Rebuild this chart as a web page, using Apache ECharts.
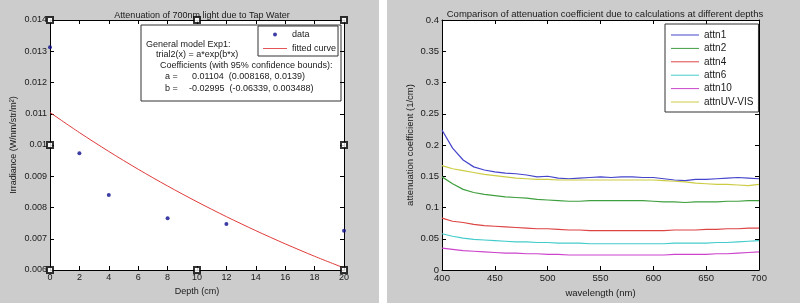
<!DOCTYPE html>
<html>
<head>
<meta charset="utf-8">
<script src="https://cdn.jsdelivr.net/npm/echarts@6/dist/echarts.min.js"></script>
<style>
  html, body { margin: 0; padding: 0; background: #fff; }
  #main { width: 800px; height: 306px; }
</style>
</head>
<body>
<div id="main"></div>
<script>
// left panel: measured irradiance vs depth + exp fit
var depth = [0, 2, 4, 8, 12, 20];
var irradiance = [0.01313, 0.00974, 0.0084, 0.00766, 0.00747, 0.00726];
var fitDepth = [0, 2, 4, 6, 8, 10, 12, 14, 16, 18, 20];
var fitValues = [0.01104, 0.010398, 0.009794, 0.009224, 0.008688, 0.008183, 0.007707, 0.007259, 0.006837, 0.006439, 0.006066];
// figure selection handles (matlab edit mode)
var handleX = [0, 10, 20, 0, 20, 0, 10, 20];
var handleY = [0.014, 0.014, 0.014, 0.010, 0.010, 0.006, 0.006, 0.006];

// right panel: attenuation coefficient vs wavelength
var wavelength = [400, 410, 420, 430, 440, 450, 460, 470, 480, 490, 500, 510, 520, 530, 540, 550,
  560, 570, 580, 590, 600, 610, 620, 630, 640, 650, 660, 670, 680, 690, 700];
var attn1 = [0.224, 0.195, 0.176, 0.165, 0.160, 0.157, 0.155, 0.154, 0.152, 0.149, 0.150, 0.147, 0.146, 0.147, 0.148, 0.149,
  0.148, 0.149, 0.149, 0.148, 0.148, 0.146, 0.144, 0.143, 0.145, 0.145, 0.146, 0.147, 0.148, 0.147, 0.146];
var attn2 = [0.149, 0.138, 0.129, 0.124, 0.121, 0.119, 0.117, 0.116, 0.115, 0.113, 0.112, 0.111, 0.110, 0.110, 0.111, 0.111,
  0.111, 0.111, 0.111, 0.111, 0.110, 0.109, 0.109, 0.108, 0.109, 0.109, 0.109, 0.110, 0.110, 0.111, 0.111];
var attn4 = [0.083, 0.078, 0.076, 0.073, 0.071, 0.070, 0.069, 0.068, 0.067, 0.066, 0.066, 0.065, 0.064, 0.064, 0.063, 0.063,
  0.063, 0.063, 0.063, 0.063, 0.063, 0.063, 0.064, 0.064, 0.064, 0.065, 0.065, 0.066, 0.066, 0.067, 0.067];
var attn6 = [0.058, 0.054, 0.051, 0.049, 0.048, 0.047, 0.046, 0.045, 0.045, 0.044, 0.044, 0.043, 0.043, 0.043, 0.042, 0.042,
  0.042, 0.042, 0.042, 0.042, 0.042, 0.042, 0.043, 0.043, 0.043, 0.043, 0.044, 0.044, 0.045, 0.046, 0.047];
var attn10 = [0.035, 0.033, 0.031, 0.030, 0.029, 0.028, 0.027, 0.027, 0.026, 0.026, 0.025, 0.025, 0.024, 0.024, 0.024, 0.024,
  0.024, 0.024, 0.024, 0.024, 0.024, 0.024, 0.025, 0.025, 0.025, 0.025, 0.026, 0.026, 0.027, 0.028, 0.029];
var attnUV = [0.167, 0.162, 0.159, 0.156, 0.153, 0.151, 0.149, 0.147, 0.146, 0.145, 0.145, 0.144, 0.144, 0.144, 0.144, 0.144,
  0.144, 0.144, 0.144, 0.144, 0.144, 0.143, 0.142, 0.141, 0.139, 0.138, 0.137, 0.137, 0.136, 0.135, 0.137];

var fnt = 'Liberation Sans, Arial, sans-serif';
var txt = '#1a1a1a';
var lineIcon = 'path://M0,0 h28 v1 h-28 Z';

function zip(xs, ys) {
  return xs.map(function (x, i) { return [x, ys[i]]; });
}
function tickFmt(v) {
  return String(Number(v.toFixed(3)));
}
function valAxis(idx, pos, min, max, step, show, fs, name, gap) {
  return {
    type: 'value', gridIndex: idx, position: pos, min: min, max: max, interval: step,
    name: name || '', nameLocation: 'middle', nameGap: gap || 0,
    nameTextStyle: { fontFamily: fnt, fontSize: fs, color: txt },
    axisLine: { show: true, onZero: false, lineStyle: { color: '#000', width: 1 } },
    axisTick: { show: true, inside: true, length: 4, lineStyle: { color: '#000' } },
    axisLabel: { show: show, margin: 3, fontFamily: fnt, fontSize: fs, color: txt, formatter: tickFmt },
    splitLine: { show: false }
  };
}

var lineCols = ['#4545cc', '#3f9f3f', '#dd4444', '#44cccc', '#cc44cc', '#cccc44'];
var attnNames = ['attn1', 'attn2', 'attn4', 'attn6', 'attn10', 'attnUV-VIS'];
var attnData = [attn1, attn2, attn4, attn6, attn10, attnUV];

var myChart = echarts.init(document.getElementById('main'));

var series = [
  {
    name: 'data', type: 'scatter', xAxisIndex: 0, yAxisIndex: 0,
    symbol: 'circle', symbolSize: 4, itemStyle: { color: '#0c0c90' },
    data: zip(depth, irradiance), z: 4
  },
  {
    name: 'fitted curve', type: 'line', xAxisIndex: 0, yAxisIndex: 0,
    symbol: 'none', smooth: 0.3, lineStyle: { color: '#e03a3a', width: 1 },
    itemStyle: { color: '#e03a3a' },
    data: zip(fitDepth, fitValues), z: 3
  },
  {
    name: 'handles', type: 'scatter', xAxisIndex: 0, yAxisIndex: 0, clip: false,
    symbol: 'rect', symbolSize: 6, silent: true,
    itemStyle: { color: '#fff', borderColor: '#000', borderWidth: 2 },
    data: zip(handleX, handleY), z: 6
  }
];
attnNames.forEach(function (n, i) {
  series.push({
    name: n, type: 'line', xAxisIndex: 2, yAxisIndex: 2,
    symbol: 'none', lineStyle: { color: lineCols[i], width: 1.2 },
    itemStyle: { color: lineCols[i] },
    data: zip(wavelength, attnData[i])
  });
});

var option = {
  animation: false,
  backgroundColor: '#fff',
  textStyle: { fontFamily: fnt },
  title: [
    { text: 'Attenuation of 700nm light due to Tap Water', left: 197, top: 6, textAlign: 'center',
      textStyle: { fontFamily: fnt, fontSize: 9, fontWeight: 'normal', color: txt } },
    { text: 'Comparison of attenuation coefficient due to calculations at different depths', left: 600, top: 4, textAlign: 'center',
      textStyle: { fontFamily: fnt, fontSize: 9.5, fontWeight: 'normal', color: txt } }
  ],
  grid: [
    { left: 50, top: 20, width: 294, height: 250, show: true, backgroundColor: '#fff', borderWidth: 0 },
    { left: 442, top: 20, width: 317, height: 250, show: true, backgroundColor: '#fff', borderWidth: 0 }
  ],
  legend: [
    {
      data: [{ name: 'data', icon: 'circle' }, { name: 'fitted curve', icon: lineIcon }],
      orient: 'vertical', left: 258, top: 26,
      itemWidth: 24, itemHeight: 4, itemGap: 5, padding: [4, 2, 3, 5],
      backgroundColor: '#fff', borderColor: '#333', borderWidth: 1, borderRadius: 0,
      textStyle: { fontFamily: fnt, fontSize: 9, color: txt }, selectedMode: false, z: 10
    },
    {
      data: attnNames.map(function (n) { return { name: n, icon: lineIcon }; }),
      orient: 'vertical', left: 665, top: 24,
      itemWidth: 28, itemHeight: 8, itemGap: 3.4, padding: [6, 5, 5, 6],
      backgroundColor: '#fff', borderColor: '#333', borderWidth: 1, borderRadius: 0,
      textStyle: { fontFamily: fnt, fontSize: 10, color: txt }, selectedMode: false
    }
  ],
  xAxis: [
    valAxis(0, 'bottom', 0, 20, 2, true, 9, 'Depth (cm)', 14),
    valAxis(0, 'top', 0, 20, 2, false, 9),
    valAxis(1, 'bottom', 400, 700, 50, true, 9.5, 'wavelength (nm)', 15),
    valAxis(1, 'top', 400, 700, 50, false, 9.5)
  ],
  yAxis: [
    valAxis(0, 'left', 0.006, 0.014, 0.001, true, 9, 'Irradiance (W/nm/str/m²)', 32),
    valAxis(0, 'right', 0.006, 0.014, 0.001, false, 9),
    valAxis(1, 'left', 0, 0.4, 0.05, true, 9.5, 'attenuation coefficient (1/cm)', 27),
    valAxis(1, 'right', 0, 0.4, 0.05, false, 9.5)
  ],
  graphic: [
    { type: 'rect', z: -10, silent: true, shape: { x: 0, y: 0, width: 379, height: 303 }, style: { fill: '#cccccc' } },
    { type: 'rect', z: -10, silent: true, shape: { x: 387, y: 0, width: 413, height: 303 }, style: { fill: '#cccccc' } },
    {
      type: 'group', z: 8, children: [
        { type: 'rect', shape: { x: 141, y: 25, width: 200, height: 76 }, style: { fill: '#fff', stroke: '#333', lineWidth: 1 } },
        { type: 'text', x: 146, y: 45, style: { text: 'General model Exp1:', font: '9px ' + fnt, fill: txt, verticalAlign: 'middle' } },
        { type: 'text', x: 156, y: 55, style: { text: 'trial2(x) = a*exp(b*x)', font: '9px ' + fnt, fill: txt, verticalAlign: 'middle' } },
        { type: 'text', x: 160, y: 66, style: { text: 'Coefficients (with 95% confidence bounds):', font: '9px ' + fnt, fill: txt, verticalAlign: 'middle' } },
        { type: 'text', x: 165, y: 77, style: { text: 'a =', font: '9px ' + fnt, fill: txt, verticalAlign: 'middle' } },
        { type: 'text', x: 192, y: 77, style: { text: '0.01104  (0.008168, 0.0139)', font: '9px ' + fnt, fill: txt, verticalAlign: 'middle' } },
        { type: 'text', x: 165, y: 89, style: { text: 'b =', font: '9px ' + fnt, fill: txt, verticalAlign: 'middle' } },
        { type: 'text', x: 189, y: 89, style: { text: '-0.02995  (-0.06339, 0.003488)', font: '9px ' + fnt, fill: txt, verticalAlign: 'middle' } }
      ]
    }
  ],
  series: series
};

myChart.setOption(option);
</script>
</body>
</html>
